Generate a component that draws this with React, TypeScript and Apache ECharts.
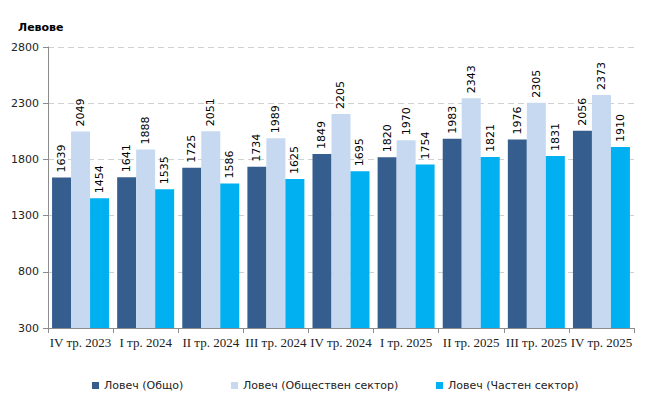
import React, { useEffect, useRef } from "react";
import * as echarts from "echarts";

const categories = ["IV тр. 2023", "I тр. 2024", "II тр. 2024", "III тр. 2024", "IV тр. 2024", "I тр. 2025", "II тр. 2025", "III тр. 2025", "IV тр. 2025"];
const seriesNames = ["Ловеч (Общо)", "Ловеч (Обществен сектор)", "Ловеч (Частен сектор)"];
const totalValues = [1639, 1641, 1725, 1734, 1849, 1820, 1983, 1976, 2056];
const publicValues = [2049, 1888, 2051, 1989, 2205, 1970, 2343, 2305, 2373];
const privateValues = [1454, 1535, 1586, 1625, 1695, 1754, 1821, 1831, 1910];
const colors = ["#355E8E", "#C6D9F1", "#00B0F0"];

const FONT = "DejaVu Sans";

export default function App() {
  const ref = useRef<HTMLDivElement>(null);
  useEffect(() => {
    if (!ref.current) return;
    const chart = echarts.init(ref.current, null, { renderer: "svg" });
    const data = [totalValues, publicValues, privateValues];
    const legendLefts = [79, 218, 423];
    chart.setOption({
      animation: false,
      title: {
        text: "Левове",
        left: 5,
        top: 9,
        textStyle: { fontFamily: FONT, fontSize: 11, fontWeight: "bold", color: "#000" },
      },
      legend: seriesNames.map((n, i) => ({
        data: [n],
        left: legendLefts[i],
        top: 367,
        icon: "rect",
        itemWidth: 7,
        itemHeight: 7,
        itemGap: 4,
        textStyle: { fontFamily: FONT, fontSize: 11, color: "#222" },
      })),
      grid: { left: 35, right: 16, top: 39, bottom: 80, containLabel: false },
      xAxis: {
        type: "category",
        data: categories,
        axisLine: { lineStyle: { color: "#8c8c8c" } },
        axisTick: { show: true, length: 5, lineStyle: { color: "#8c8c8c" } },
        axisLabel: { fontFamily: "Liberation Serif", fontSize: 13, color: "#222", margin: 8, interval: 0 },
      },
      yAxis: {
        type: "value",
        min: 300,
        max: 2800,
        interval: 500,
        axisLine: { show: true, lineStyle: { color: "#8c8c8c" } },
        axisTick: { show: true, length: 5, lineStyle: { color: "#8c8c8c" } },
        axisLabel: { fontFamily: FONT, fontSize: 11, color: "#222", margin: 9, formatter: (v: number) => String(v) },
        splitLine: { lineStyle: { color: "#d0d0d0", type: [6, 4] } },
      },
      series: seriesNames.map((n, i) => ({
        name: n,
        type: "bar",
        data: data[i],
        barWidth: 19,
        barGap: "0%",
        itemStyle: { color: colors[i] },
        label: {
          show: true,
          position: "top",
          rotate: 90,
          align: "left",
          verticalAlign: "middle",
          distance: 5,
          fontFamily: FONT,
          fontSize: 11,
          color: "#000",
        },
      })),
    });
    return () => chart.dispose();
  }, []);
  return <div ref={ref} style={{ width: 642, height: 400 }} />;
}
